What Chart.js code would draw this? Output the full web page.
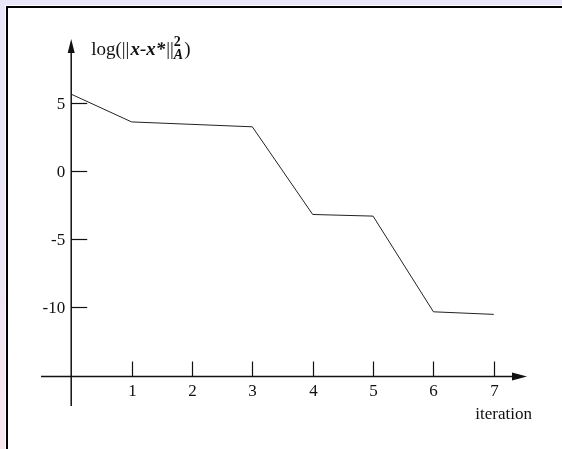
<!DOCTYPE html>
<html>
<head>
<meta charset="utf-8">
<script src="https://cdn.jsdelivr.net/npm/chart.js@4/dist/chart.umd.min.js"></script>
<style>
  html, body { margin: 0; padding: 0; }
  body { width: 562px; height: 449px; overflow: hidden; position: relative;
         background: linear-gradient(to bottom, #e8e6f8 0%, #ece6f6 50%, #f8e6ee 100%); }
  #frame { position: absolute; left: 5px; top: 5px; right: 0; bottom: 0; background: #fff; }
  #inner { position: absolute; left: 1px; top: 1px; right: 0; bottom: 0;
           border-left: 2px solid #000; border-top: 2px solid #000; background: #fff; }
  #c { position: absolute; left: 0; top: 0; }
</style>
</head>
<body>
<div id="frame"><div id="inner"></div></div>
<canvas id="c" width="562" height="449"></canvas>
<script>
// values
var iterations = [0, 1, 2, 3, 4, 5, 6, 7];
var errorLog = [5.64, 3.60, 3.42, 3.24, -3.21, -3.33, -10.37, -10.56];
var xTickValues = [1, 2, 3, 4, 5, 6, 7];
var yTickValues = [5, 0, -5, -10];

var serif = '"Liberation Serif", "DejaVu Serif", serif';

// draws the crossing axes, arrows, ticks and labels
var axesPlugin = {
    id: 'arrowAxes',
    afterDatasetsDraw: function(chart) {
        var ctx = chart.ctx;
        var xs = chart.scales.x, ys = chart.scales.y;
        var x0 = xs.getPixelForValue(0);
        var yAxisY = Math.round(ys.getPixelForValue(-15.1)) + 0.5;
        ctx.save();
        ctx.strokeStyle = '#111';
        ctx.fillStyle = '#111';
        ctx.lineWidth = 1.5;

        // y axis
        var yTop = ys.getPixelForValue(9.7);
        ctx.beginPath();
        ctx.moveTo(x0, ys.getPixelForValue(-17.3));
        ctx.lineTo(x0, yTop + 10);
        ctx.stroke();
        ctx.beginPath();
        ctx.moveTo(x0, yTop);
        ctx.lineTo(x0 - 3.5, yTop + 14);
        ctx.lineTo(x0 + 3.5, yTop + 14);
        ctx.closePath();
        ctx.fill();

        // x axis
        var xRight = xs.getPixelForValue(7.55);
        ctx.beginPath();
        ctx.moveTo(xs.getPixelForValue(-0.5), yAxisY);
        ctx.lineTo(xRight - 10, yAxisY);
        ctx.stroke();
        ctx.beginPath();
        ctx.moveTo(xRight, yAxisY);
        ctx.lineTo(xRight - 15, yAxisY - 4);
        ctx.lineTo(xRight - 15, yAxisY + 4);
        ctx.closePath();
        ctx.fill();

        ctx.lineWidth = 1.2;
        ctx.font = '17px ' + serif;
        // x ticks
        ctx.textAlign = 'center';
        ctx.textBaseline = 'middle';
        xTickValues.forEach(function(v) {
            var px = Math.round(xs.getPixelForValue(v)) + 0.5;
            ctx.beginPath();
            ctx.moveTo(px, yAxisY);
            ctx.lineTo(px, yAxisY - 15);
            ctx.stroke();
            ctx.fillText(String(v), px, yAxisY + 15);
        });
        // y ticks
        ctx.textAlign = 'right';
        yTickValues.forEach(function(v) {
            var py = Math.round(ys.getPixelForValue(v)) + 0.5;
            ctx.beginPath();
            ctx.moveTo(x0, py);
            ctx.lineTo(x0 + 16, py);
            ctx.stroke();
            ctx.fillText(String(v), x0 - 6, py + 1);
        });

        // x axis name
        ctx.textAlign = 'right';
        ctx.fillText('iteration', xRight + 5, yAxisY + 38);

        // y axis name: log(‖x-x*‖²_A)
        ctx.textAlign = 'left';
        ctx.textBaseline = 'alphabetic';
        var tx = x0 + 20, ty = yTop + 16;
        function part(txt, font, dy) {
            ctx.font = font;
            ctx.fillText(txt, tx, ty + (dy || 0));
            return ctx.measureText(txt).width;
        }
        tx += part('log(', '19px ' + serif);
        tx += part('||', '19px ' + serif) + 1;
        tx += part('x-x*', 'italic bold 19px ' + serif) + 1;
        tx += part('||', '19px ' + serif);
        var w1 = part('2', 'bold 14px ' + serif, -9);
        var w2 = part('A', 'italic bold 14px ' + serif, 4);
        tx += Math.max(w1, w2) + 1;
        part(')', '19px ' + serif);
        ctx.restore();
    }
};

new Chart(document.getElementById('c'), {
    type: 'line',
    data: {
        datasets: [{
            data: iterations.map(function(it, i) { return { x: it, y: errorLog[i] }; }),
            borderColor: '#222',
            borderWidth: 1,
            pointRadius: 0,
            tension: 0,
            fill: false,
            clip: false
        }]
    },
    options: {
        responsive: false,
        animation: false,
        devicePixelRatio: 1,
        layout: { padding: { left: 38, right: 35, top: 39, bottom: 43 } },
        scales: {
            x: { type: 'linear', min: -0.55, max: 7.55, display: false },
            y: { min: -17.3, max: 9.7, display: false }
        },
        plugins: { legend: { display: false }, tooltip: { enabled: false } }
    },
    plugins: [axesPlugin]
});
</script>
</body>
</html>
